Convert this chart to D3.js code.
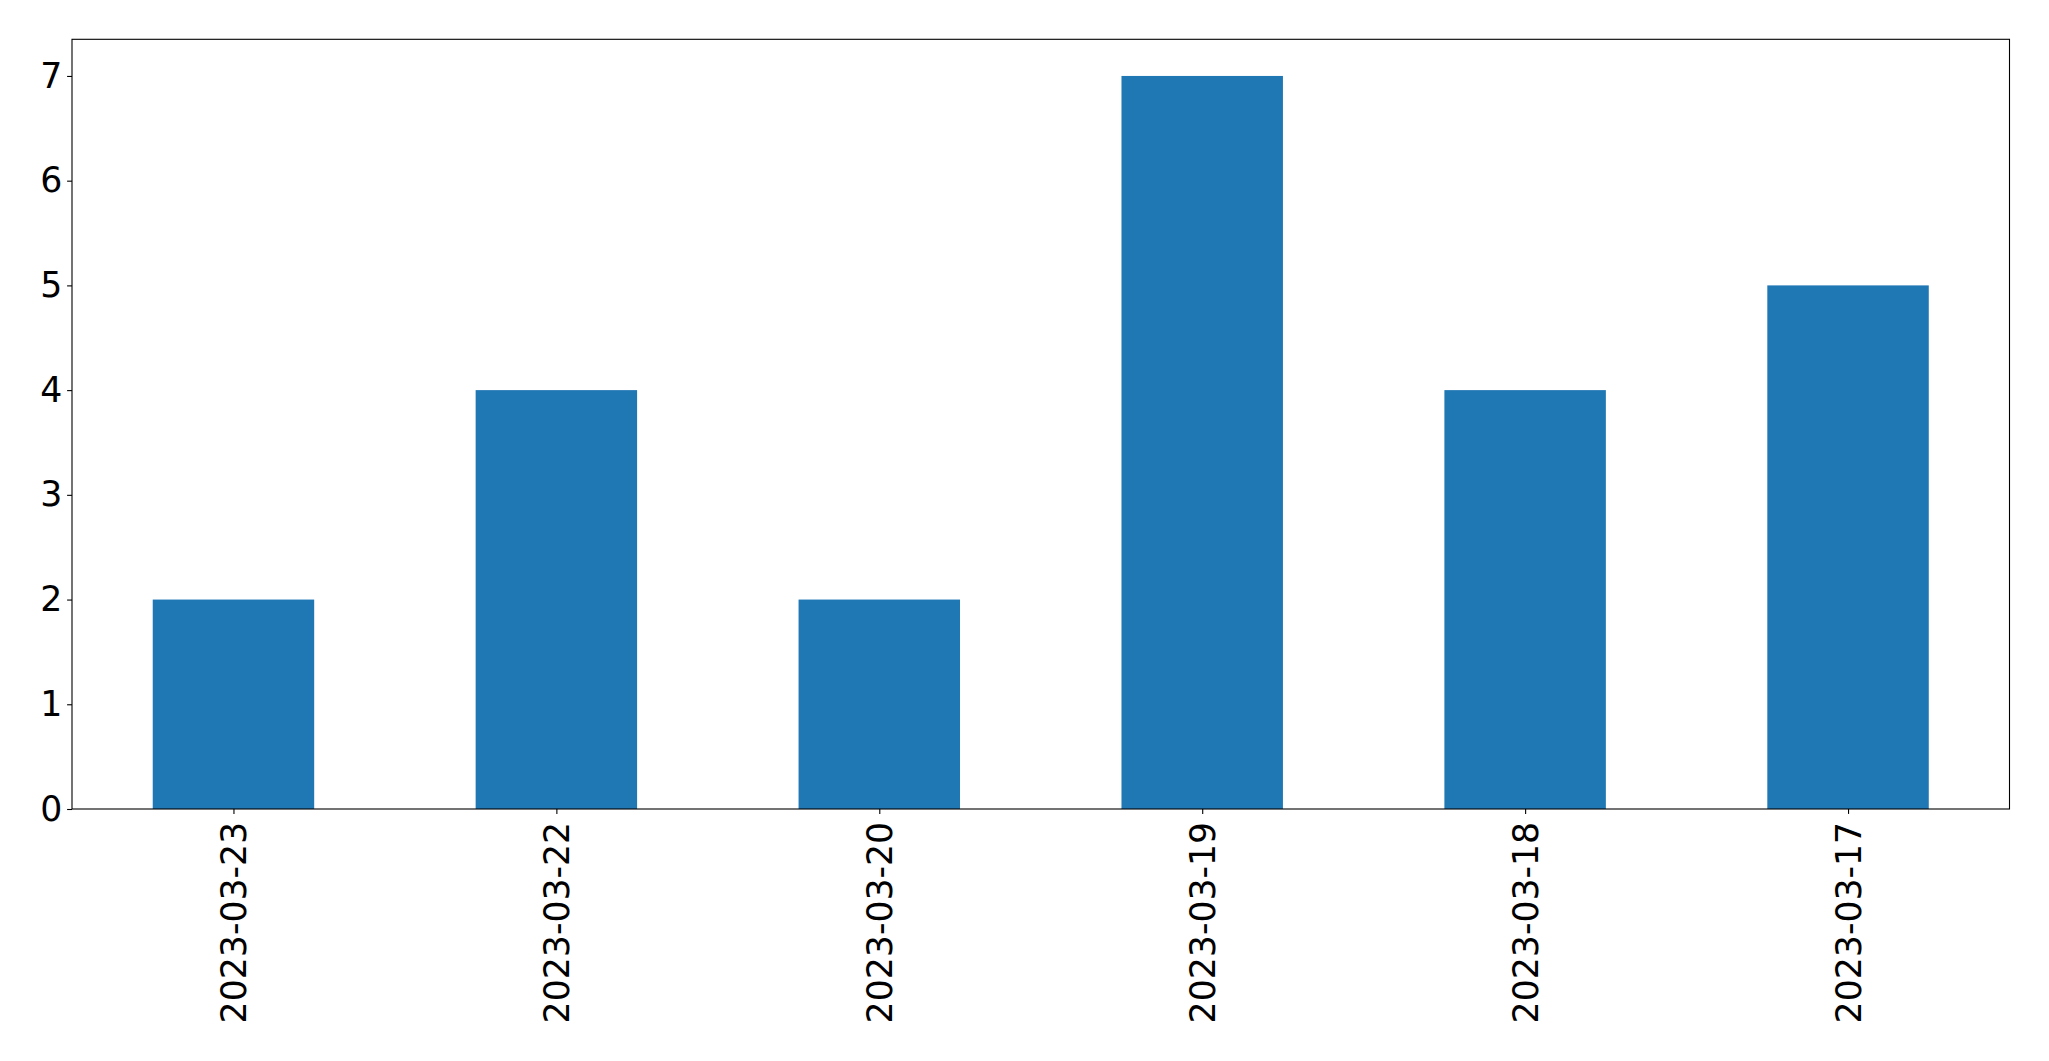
<!DOCTYPE html>
<html><head><meta charset="utf-8">
<script src="https://cdn.jsdelivr.net/npm/d3@7"></script>
<style>html,body{margin:0;padding:0;background:#fff;overflow:hidden}</style>
</head><body><svg id="c" width="2049" height="1061"></svg>
<script>
const categories = ["2023-03-23","2023-03-22","2023-03-20","2023-03-19","2023-03-18","2023-03-17"];
const values = [2,4,2,7,4,5];
const yTicks = [0,1,2,3,4,5,6,7];

const W=2049,H=1061;
const m={left:72,right:2009.5,top:39.3,bottom:809};
const svg=d3.select("#c");
const font="DejaVu Sans";
const fs=34.7;

const x=d3.scaleLinear().domain([-0.5,categories.length-0.5]).range([m.left,m.right]);
const y=d3.scaleLinear().domain([0,d3.max(values)*1.05]).range([m.bottom,m.top]);

const bw=x(0.5)-x(0);
svg.append("g").selectAll("rect").data(values).join("rect")
  .attr("x",(d,i)=>x(i)-bw/2).attr("width",bw)
  .attr("y",d=>y(d)).attr("height",d=>y(0)-y(d))
  .attr("fill","#1f77b4");

// frame
svg.append("rect").attr("x",m.left).attr("y",m.top)
  .attr("width",m.right-m.left).attr("height",m.bottom-m.top)
  .attr("fill","none").attr("stroke","#000").attr("stroke-width",1.1);

const yAxis=d3.axisLeft(y).tickValues(yTicks).tickFormat(d3.format("d")).tickSize(4.9).tickPadding(4.9);
const gy=svg.append("g").attr("transform",`translate(${m.left},0)`).call(yAxis);
gy.select(".domain").remove();
gy.selectAll("line").attr("stroke","#000").attr("stroke-width",1.1);
gy.selectAll("text").attr("font-family",font).attr("font-size",fs).attr("fill","#000");

const xAxis=d3.axisBottom(x).tickValues(d3.range(categories.length)).tickFormat(i=>categories[i]).tickSize(4.9).tickPadding(4.9);
const gx=svg.append("g").attr("transform",`translate(0,${m.bottom})`).call(xAxis);
gx.select(".domain").remove();
gx.selectAll("line").attr("stroke","#000").attr("stroke-width",1.1);
gx.selectAll("text").attr("font-family",font).attr("font-size",fs).attr("fill","#000")
  .attr("text-anchor","end").attr("dy","0.35em")
  .attr("y",0).attr("x",0)
  .attr("transform",`translate(0,${4.9+4.9+3}) rotate(-90)`);
</script></body></html>
